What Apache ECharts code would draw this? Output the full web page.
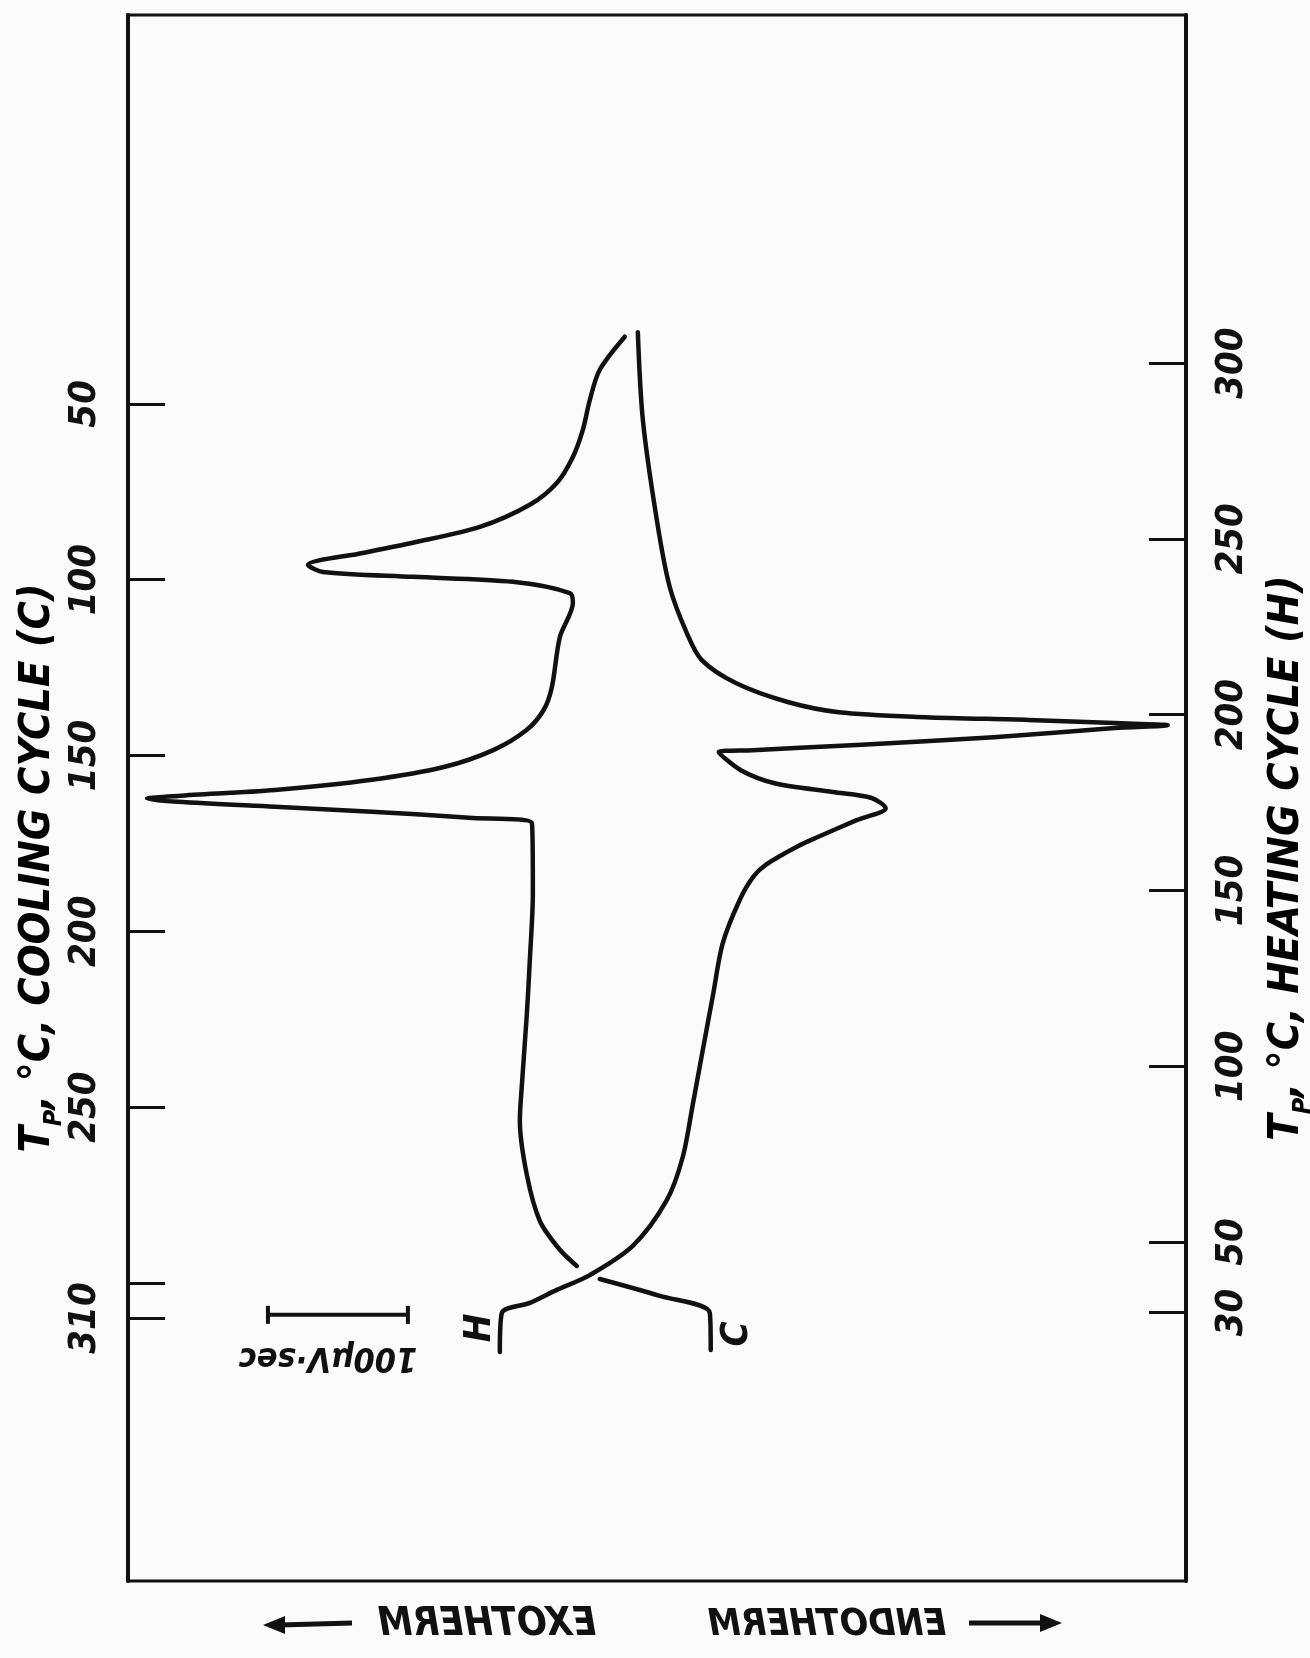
<!DOCTYPE html>
<html><head><meta charset="utf-8">
<script src="https://cdn.jsdelivr.net/npm/echarts@6/dist/echarts.min.js"></script>
<style>html,body{margin:0;padding:0;background:#fbfbfb}#c{width:1310px;height:1658px}</style>
</head><body><div id="c"></div><script>
// ---- data ----
// Cooling cycle (C): temperature on left axis (°C), signal in μV·sec units
const coolT = [30.9, 40.3, 48.9, 57.4, 65.1, 72.5, 78.7, 85.0, 89.5, 92.4, 95.8, 97.8, 99.2, 100.6, 103.8, 106.6, 116.3, 130.5, 137.0, 142.7, 148.4, 153.2, 156.9, 159.8, 161.5, 162.3, 163.2, 164.6, 166.0, 167.7, 169.2, 189.1, 208.4, 223.5, 244.0, 253.9, 269.3, 282.4, 290.6, 295.2, null, 298.9, 303.7, 308.5, 319.1];
const coolSignal = [355.0, 337.1, 330.0, 325.0, 317.9, 306.4, 287.1, 251.4, 203.6, 167.9, 128.6, 139.3, 203.6, 275.0, 315.7, 317.9, 308.6, 302.9, 297.1, 285.0, 261.4, 226.4, 174.3, 105.0, 35.7, 13.6, 35.7, 105.0, 174.3, 243.6, 288.6, 289.3, 287.1, 285.0, 281.4, 280.0, 285.0, 294.3, 308.6, 320.7, null, 337.1, 380.0, 415.7, 416.4];
// Heating cycle (H): temperature on right axis (°C)
const heatT = [18.7, 29.8, 32.7, 36.4, 40.6, 48.9, 61.9, 74.2, 89.2, 104.6, 120.0, 135.0, 147.3, 154.0, 157.5, 162.6, 165.2, 170.0, 173.4, 176.3, 178.0, 180.5, 184.2, 189.4, 189.9, 191.4, 193.6, 196.2, 197.0, 197.6, 198.5, 199.3, 200.7, 203.6, 209.0, 215.5, 223.2, 236.3, 255.3, 283.8, 308.8];
const heatSignal = [265.7, 267.1, 287.1, 306.4, 330.0, 360.7, 385.0, 396.4, 403.6, 410.7, 417.9, 425.0, 437.1, 447.0, 456.4, 478.6, 492.9, 520.7, 541.4, 531.4, 503.6, 462.1, 437.9, 422.1, 446.4, 520.7, 618.6, 705.0, 742.9, 705.0, 643.6, 569.3, 507.9, 471.4, 434.3, 410.0, 399.3, 387.1, 377.9, 367.9, 364.3];
// scale bar: 100 μV·sec
const scaleBarSignal = [100, 200];
const scaleBarT = [309.1, 309.1];
// axis ticks / labels
const coolTicks = [50, 100, 150, 200, 250, 300, 310];
const coolLabels = [50, 100, 150, 200, 250, 310];
const heatTicks = [300, 250, 200, 150, 100, 50, 30];
const heatLabels = [300, 250, 200, 150, 100, 50, 30];

// ---- build ----
const INK = '#111111';
const FF = '"Liberation Sans Narrow","DejaVu Sans Condensed","Liberation Sans",sans-serif';

function segments(xs, ys) {
  const out = []; let cur = [];
  for (let i = 0; i < xs.length; i++) {
    if (xs[i] == null || ys[i] == null) { if (cur.length) out.push(cur); cur = []; }
    else cur.push([xs[i], ys[i]]);
  }
  if (cur.length) out.push(cur);
  return out;
}
const coolSegs = segments(coolSignal, coolT);
const heatSegs = segments(heatSignal, heatT);

const curveStyle = { color: INK, width: 4.5, cap: 'round', join: 'round' };
const series = [];
coolSegs.forEach(d => series.push({ type: 'line', xAxisIndex: 0, yAxisIndex: 0, data: d, showSymbol: false, smooth: 0.3, lineStyle: curveStyle, silent: true }));
heatSegs.forEach(d => series.push({ type: 'line', xAxisIndex: 0, yAxisIndex: 1, data: d, showSymbol: false, smooth: 0.3, lineStyle: curveStyle, silent: true }));
series.push({ type: 'line', xAxisIndex: 0, yAxisIndex: 0,
  data: scaleBarSignal.map((s, i) => [s, scaleBarT[i]]),
  symbol: 'rect', symbolSize: [4, 18], showSymbol: true, itemStyle: { color: INK },
  lineStyle: { color: INK, width: 4 }, silent: true });

const labelStyle = { rotate: 90, fontSize: 38, fontStyle: 'italic', fontWeight: 'bold', fontFamily: FF, color: INK, margin: 24 };
const titleRich = {
  a: { fontSize: 43, fontStyle: 'italic', fontWeight: 'bold', fontFamily: FF, color: INK, lineHeight: 58, verticalAlign: 'middle' },
  s: { fontSize: 25, fontStyle: 'italic', fontWeight: 'bold', fontFamily: FF, color: INK, verticalAlign: 'bottom' }
};

const chart = echarts.init(document.getElementById('c'), null, { renderer: 'canvas' });
chart.setOption({
  animation: false,
  backgroundColor: '#fbfbfb',
  grid: { left: 128, top: 15, right: 124, bottom: 77, show: true, borderColor: INK, borderWidth: 3, backgroundColor: 'transparent' },
  xAxis: { type: 'value', min: 0, max: 756, show: false },
  yAxis: [
    { type: 'value', position: 'left', inverse: true, min: -60.6, max: 384.8,
      axisLine: { show: true, lineStyle: { color: INK, width: 4 } },
      axisTick: { show: true, inside: true, length: 37, lineStyle: { color: INK, width: 3 }, customValues: coolTicks },
      axisLabel: Object.assign({}, labelStyle, { customValues: coolLabels }),
      splitLine: { show: false } },
    { type: 'value', position: 'right', min: -46.4, max: 399,
      axisLine: { show: true, lineStyle: { color: INK, width: 4 } },
      axisTick: { show: true, inside: true, length: 37, lineStyle: { color: INK, width: 3 }, customValues: heatTicks },
      axisLabel: Object.assign({}, labelStyle, { customValues: heatLabels, margin: 27 }),
      splitLine: { show: false } }
  ],
  series: series,
  graphic: [
    { type: 'text', x: 38, y: 868, rotation: Math.PI / 2,
      style: { text: '{a|T}{s|P}{a|, °C, COOLING CYCLE (C)}', rich: titleRich, align: 'center', verticalAlign: 'middle' } },
    { type: 'text', x: 1287, y: 858, rotation: Math.PI / 2,
      style: { text: '{a|T}{s|P}{a|, °C, HEATING CYCLE (H)}', rich: titleRich, align: 'center', verticalAlign: 'middle' } },
    { type: 'text', x: 328, y: 1357, rotation: Math.PI,
      style: { text: '100μV·sec', fontSize: 34, fontStyle: 'italic', fontWeight: 'bold', fontFamily: FF, fill: INK, align: 'center', verticalAlign: 'middle' } },
    { type: 'text', x: 480, y: 1328, rotation: Math.PI / 2,
      style: { text: 'H', fontSize: 38, fontStyle: 'italic', fontWeight: 'bold', fontFamily: FF, fill: INK, align: 'center', verticalAlign: 'middle' } },
    { type: 'text', x: 737, y: 1334, rotation: Math.PI / 2,
      style: { text: 'C', fontSize: 38, fontStyle: 'italic', fontWeight: 'bold', fontFamily: FF, fill: INK, align: 'center', verticalAlign: 'middle' } },
    { type: 'text', x: 487, y: 1625, scaleX: -1,
      style: { text: 'EXOTHERM', fontSize: 39, fontStyle: 'italic', fontWeight: 'bold', fontFamily: FF, fill: INK, align: 'center', verticalAlign: 'middle' } },
    { type: 'text', x: 827, y: 1625, scaleX: -1,
      style: { text: 'ENDOTHERM', fontSize: 37, fontStyle: 'italic', fontWeight: 'bold', fontFamily: FF, fill: INK, align: 'center', verticalAlign: 'middle' } },
    { type: 'line', shape: { x1: 280, y1: 1625, x2: 352, y2: 1623 }, style: { stroke: INK, lineWidth: 5 } },
    { type: 'polygon', shape: { points: [[263, 1625], [285, 1616], [285, 1634]] }, style: { fill: INK } },
    { type: 'line', shape: { x1: 969, y1: 1623, x2: 1045, y2: 1623 }, style: { stroke: INK, lineWidth: 5 } },
    { type: 'polygon', shape: { points: [[1062, 1623], [1040, 1614], [1040, 1632]] }, style: { fill: INK } }
  ]
});
</script></body></html>
